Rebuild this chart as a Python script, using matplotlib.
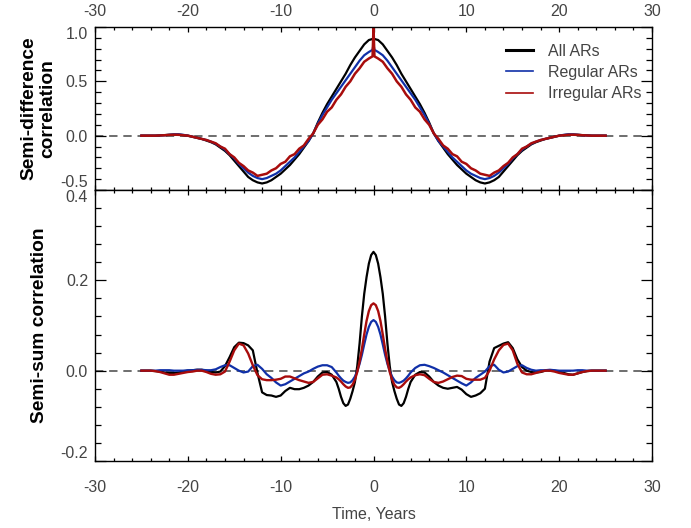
import numpy as np
import matplotlib
matplotlib.use('Agg')
import matplotlib.pyplot as plt
from matplotlib.lines import Line2D

plt.rcParams['font.family'] = ['Liberation Sans', 'DejaVu Sans']
plt.rcParams['axes.unicode_minus'] = False

# time lags (years)
t_top = np.concatenate([np.arange(-25, -0.4, 0.5), [-0.1, 0.0, 0.1], np.arange(0.5, 25.01, 0.5)])
t_bot = np.concatenate([np.arange(-25, -4.4, 0.5), np.arange(-4, 4.01, 0.25), np.arange(4.5, 25.01, 0.5)])

# semi-difference correlation (top panel)
all_top_neg = [0.0, 0.0, 0.0, 0.0, 0.003, 0.005, 0.008, 0.01, 0.01, 0.005,
               0.0, -0.01, -0.02, -0.03, -0.045, -0.06, -0.08, -0.11, -0.14, -0.18,
               -0.23, -0.28, -0.33, -0.38, -0.41, -0.43, -0.44, -0.43, -0.41, -0.38,
               -0.35, -0.31, -0.27, -0.22, -0.17, -0.11, -0.05, 0.02, 0.12, 0.21,
               0.29, 0.36, 0.43, 0.50, 0.57, 0.65, 0.72, 0.78, 0.84, 0.88]
all_top_mid = [0.89, 0.895, 0.89]
all_top_pos = [0.88, 0.84, 0.78, 0.72, 0.65, 0.57, 0.50, 0.43, 0.36, 0.29,
               0.21, 0.12, 0.02, -0.05, -0.11, -0.17, -0.22, -0.27, -0.31, -0.35,
               -0.38, -0.41, -0.43, -0.44, -0.43, -0.41, -0.38, -0.33, -0.28, -0.23,
               -0.18, -0.14, -0.11, -0.08, -0.06, -0.045, -0.03, -0.02, -0.01, 0.0,
               0.005, 0.01, 0.01, 0.008, 0.005, 0.003, 0.0, 0.0, 0.0, 0.0]

reg_top_neg = [0.0, 0.0, 0.0, 0.0, 0.002, 0.004, 0.008, 0.012, 0.012, 0.008,
               0.0, -0.01, -0.02, -0.03, -0.04, -0.055, -0.075, -0.10, -0.13, -0.17,
               -0.21, -0.26, -0.30, -0.34, -0.37, -0.39, -0.40, -0.39, -0.37, -0.35,
               -0.32, -0.28, -0.24, -0.20, -0.15, -0.10, -0.05, 0.02, 0.11, 0.19,
               0.26, 0.33, 0.39, 0.45, 0.51, 0.57, 0.63, 0.69, 0.74, 0.77]
reg_top_mid = [0.79, 0.84, 0.79]
reg_top_pos = [0.77, 0.74, 0.69, 0.63, 0.57, 0.51, 0.45, 0.39, 0.33, 0.26,
               0.19, 0.11, 0.02, -0.05, -0.10, -0.15, -0.20, -0.24, -0.28, -0.32,
               -0.35, -0.37, -0.39, -0.40, -0.39, -0.37, -0.34, -0.30, -0.26, -0.21,
               -0.17, -0.13, -0.10, -0.075, -0.055, -0.04, -0.03, -0.02, -0.01, 0.0,
               0.008, 0.012, 0.012, 0.008, 0.004, 0.002, 0.0, 0.0, 0.0, 0.0]

irr_top_neg = [0.0, 0.0, 0.0, 0.0, 0.002, 0.004, 0.007, 0.009, 0.008, 0.004,
               0.0, -0.01, -0.02, -0.03, -0.04, -0.055, -0.07, -0.10, -0.12, -0.17,
               -0.20, -0.25, -0.28, -0.32, -0.34, -0.37, -0.36, -0.35, -0.32, -0.30,
               -0.26, -0.24, -0.19, -0.17, -0.12, -0.09, -0.03, 0.02, 0.10, 0.15,
               0.22, 0.26, 0.33, 0.38, 0.45, 0.50, 0.57, 0.62, 0.68, 0.71]
irr_top_mid = [0.73, 1.0, 0.73]
irr_top_pos = [0.71, 0.68, 0.62, 0.57, 0.50, 0.45, 0.38, 0.33, 0.26, 0.22,
               0.15, 0.10, 0.02, -0.03, -0.09, -0.12, -0.17, -0.19, -0.24, -0.26,
               -0.30, -0.32, -0.35, -0.36, -0.37, -0.34, -0.32, -0.28, -0.25, -0.20,
               -0.17, -0.12, -0.10, -0.07, -0.055, -0.04, -0.03, -0.02, -0.01, 0.0,
               0.004, 0.008, 0.009, 0.007, 0.004, 0.002, 0.0, 0.0, 0.0, 0.0]

# semi-sum correlation (bottom panel): -25..-4.5, -4..4 (0.25 step), 4.5..25
all_bot = [0.0, 0.0, 0.0, -0.001, -0.002, -0.004, -0.005, -0.005, -0.004, -0.002,
           0.0, 0.001, 0.002, 0.002, 0.0, -0.003, -0.004, -0.002, 0.01, 0.03,
           0.052, 0.062, 0.061, 0.056, 0.045, -0.005, -0.048, -0.054, -0.055, -0.058,
           -0.055, -0.045, -0.038, -0.041, -0.041, -0.038, -0.033, -0.025, -0.013, -0.004,
           -0.003, -0.009,
           -0.025, -0.04, -0.058, -0.072, -0.078, -0.075, -0.062, -0.045, -0.025, 0.01,
           0.06, 0.12, 0.17, 0.207, 0.237, 0.256, 0.263, 0.256, 0.237, 0.207,
           0.17, 0.12, 0.06, 0.01, -0.025, -0.045, -0.062, -0.075, -0.078, -0.072,
           -0.058, -0.04, -0.025,
           -0.009, -0.003,
           -0.004, -0.013, -0.025, -0.033, -0.038, -0.04, -0.038, -0.036, -0.042, -0.052,
           -0.058, -0.055, -0.05, -0.04, 0.02, 0.05, 0.055, 0.06, 0.063, 0.05,
           0.025, 0.008, 0.0, -0.003, -0.004, -0.003, 0.0, 0.001, 0.0, -0.002,
           -0.005, -0.008, -0.009, -0.006, -0.003, -0.001, 0.0, 0.0, 0.0, 0.0]

reg_bot = [0.0, 0.0, 0.0, 0.0, 0.001, 0.001, 0.001, 0.0, 0.0, 0.0,
           0.001, 0.001, 0.002, 0.002, 0.001, 0.001, 0.003, 0.008, 0.012, 0.012,
           0.006, 0.0, -0.004, -0.002, 0.01, 0.013, 0.004, -0.008, -0.016, -0.026,
           -0.033, -0.03, -0.024, -0.018, -0.012, -0.006, -0.002, 0.004, 0.009, 0.012,
           0.012, 0.008,
           -0.004, -0.011, -0.017, -0.022, -0.025, -0.027, -0.026, -0.021, -0.013, -0.001,
           0.015, 0.035, 0.058, 0.08, 0.097, 0.108, 0.112, 0.108, 0.097, 0.08,
           0.058, 0.035, 0.015, -0.001, -0.013, -0.021, -0.026, -0.027, -0.025, -0.022,
           -0.017, -0.011, -0.004,
           0.006, 0.012,
           0.013, 0.01, 0.006, 0.001, -0.004, -0.01, -0.016, -0.022, -0.028, -0.033,
           -0.026, -0.016, -0.009, -0.002, 0.01, 0.013, 0.002, -0.004, -0.002, 0.004,
           0.01, 0.012, 0.006, 0.002, 0.0, 0.001, 0.001, 0.002, 0.001, 0.0,
           0.0, 0.0, 0.0, 0.001, 0.001, 0.0, 0.0, 0.0, 0.0, 0.0]

irr_bot = [0.0, 0.0, 0.0, -0.001, -0.003, -0.006, -0.009, -0.009, -0.007, -0.005,
           -0.003, -0.002, 0.0, 0.0, -0.003, -0.007, -0.009, -0.008, -0.002, 0.02,
           0.045, 0.06, 0.056, 0.038, 0.012, -0.01, -0.019, -0.021, -0.021, -0.02,
           -0.018, -0.013, -0.013, -0.017, -0.021, -0.024, -0.027, -0.025, -0.017, -0.009,
           -0.008, -0.011,
           -0.015, -0.019, -0.024, -0.03, -0.035, -0.038, -0.037, -0.031, -0.02, -0.003,
           0.02, 0.048, 0.08, 0.11, 0.132, 0.145, 0.149, 0.145, 0.132, 0.11,
           0.08, 0.048, 0.02, -0.003, -0.02, -0.031, -0.037, -0.038, -0.035, -0.03,
           -0.024, -0.019, -0.015,
           -0.01, -0.008,
           -0.01, -0.018, -0.025, -0.027, -0.024, -0.019, -0.014, -0.011, -0.012, -0.018,
           -0.02, -0.02, -0.02, -0.016, 0.0, 0.025, 0.045, 0.057, 0.06, 0.045,
           0.015, -0.004, -0.008, -0.008, -0.005, -0.002, 0.0, 0.0, -0.002, -0.005,
           -0.007, -0.009, -0.009, -0.006, -0.003, -0.001, 0.0, 0.0, 0.0, 0.0]

labels = ['All ARs', 'Regular ARs', 'Irregular ARs']
c_all = 'black'
c_reg = '#1030a8'
c_irr = '#a80c0c'
grey = '#444444'

fig = plt.figure(figsize=(6.91, 5.28), dpi=100)
ax1 = fig.add_axes([95/691, 1-190/528, 557/691, 163/528])
ax2 = fig.add_axes([95/691, 1-461/528, 557/691, 271/528])

ax1.plot(t_top, all_top_neg + all_top_mid + all_top_pos, color=c_all, lw=1.6)
ax1.plot(t_top, reg_top_neg + reg_top_mid + reg_top_pos, color=c_reg, lw=1.6)
ax1.plot(t_top, irr_top_neg + irr_top_mid + irr_top_pos, color=c_irr, lw=1.8)

ax2.plot(t_bot, all_bot, color=c_all, lw=1.6)
ax2.plot(t_bot, reg_bot, color=c_reg, lw=1.6)
ax2.plot(t_bot, irr_bot, color=c_irr, lw=1.7)

for ax in (ax1, ax2):
    ax.axhline(0, color='#555555', lw=1.2, ls=(0, (5, 3.5)), zorder=0)
    ax.set_xlim(-30, 30)
    ax.set_xticks(np.arange(-30, 31, 10))
    ax.set_xticks(np.arange(-30, 31, 2), minor=True)
    ax.tick_params(axis='both', which='both', direction='in', top=True, right=True,
                   labelsize=11.5, labelcolor=grey, width=0.9)
    ax.tick_params(axis='x', which='major', length=3.6)
    ax.tick_params(axis='x', which='minor', length=2)
    ax.tick_params(axis='y', which='major', length=8)
    ax.tick_params(axis='y', which='minor', length=4)
    for s in ax.spines.values():
        s.set_linewidth(1.0)

ax1.set_ylim(-0.5, 1.0)
ax1.set_yticks([-0.5, 0.0, 0.5, 1.0])
ax1.set_yticks(np.arange(-0.5, 1.01, 0.1), minor=True)
ax1.set_yticklabels(['-0.5', '0.0', '0.5', '1.0'])
ax1.tick_params(axis='x', which='both', labeltop=True, labelbottom=False, pad=6)
ax1.tick_params(axis='y', pad=5)

ax2.set_ylim(-0.2, 0.4)
ax2.set_yticks([-0.2, 0.0, 0.2, 0.4])
ax2.set_yticks(np.arange(-0.2, 0.41, 0.04), minor=True)
ax2.set_yticklabels(['-0.2', '0.0', '0.2', '0.4'])
ax2.tick_params(axis='x', which='both', pad=14)
ax2.tick_params(axis='y', pad=5)

# keep end labels inside the panels
yl = ax1.get_yticklabels()
yl[0].set_va('bottom')
yl[-1].set_va('top')
yl = ax2.get_yticklabels()
yl[0].set_va('bottom')
yl[-1].set_va('top')

ax1.set_ylabel('Semi-difference\ncorrelation', fontsize=13.8, fontweight='bold', labelpad=3, linespacing=1.1)
ax2.set_ylabel('Semi-sum correlation', fontsize=13.8, fontweight='bold', labelpad=9)
ax2.set_xlabel('Time, Years', fontsize=11.5, color=grey, labelpad=8)

handles = [Line2D([], [], color=c_all, lw=2.2),
           Line2D([], [], color=c_reg, lw=1.2),
           Line2D([], [], color=c_irr, lw=1.2)]
leg = ax1.legend(handles, labels, loc='upper left', bbox_to_anchor=(506/691, 1-44/528),
                 bbox_transform=fig.transFigure, frameon=False, fontsize=11.5,
                 handlelength=1.7, handletextpad=0.9, labelspacing=0.38,
                 borderpad=0, borderaxespad=0)
for txt in leg.get_texts():
    txt.set_color(grey)

fig.savefig('out.png', dpi=100)
